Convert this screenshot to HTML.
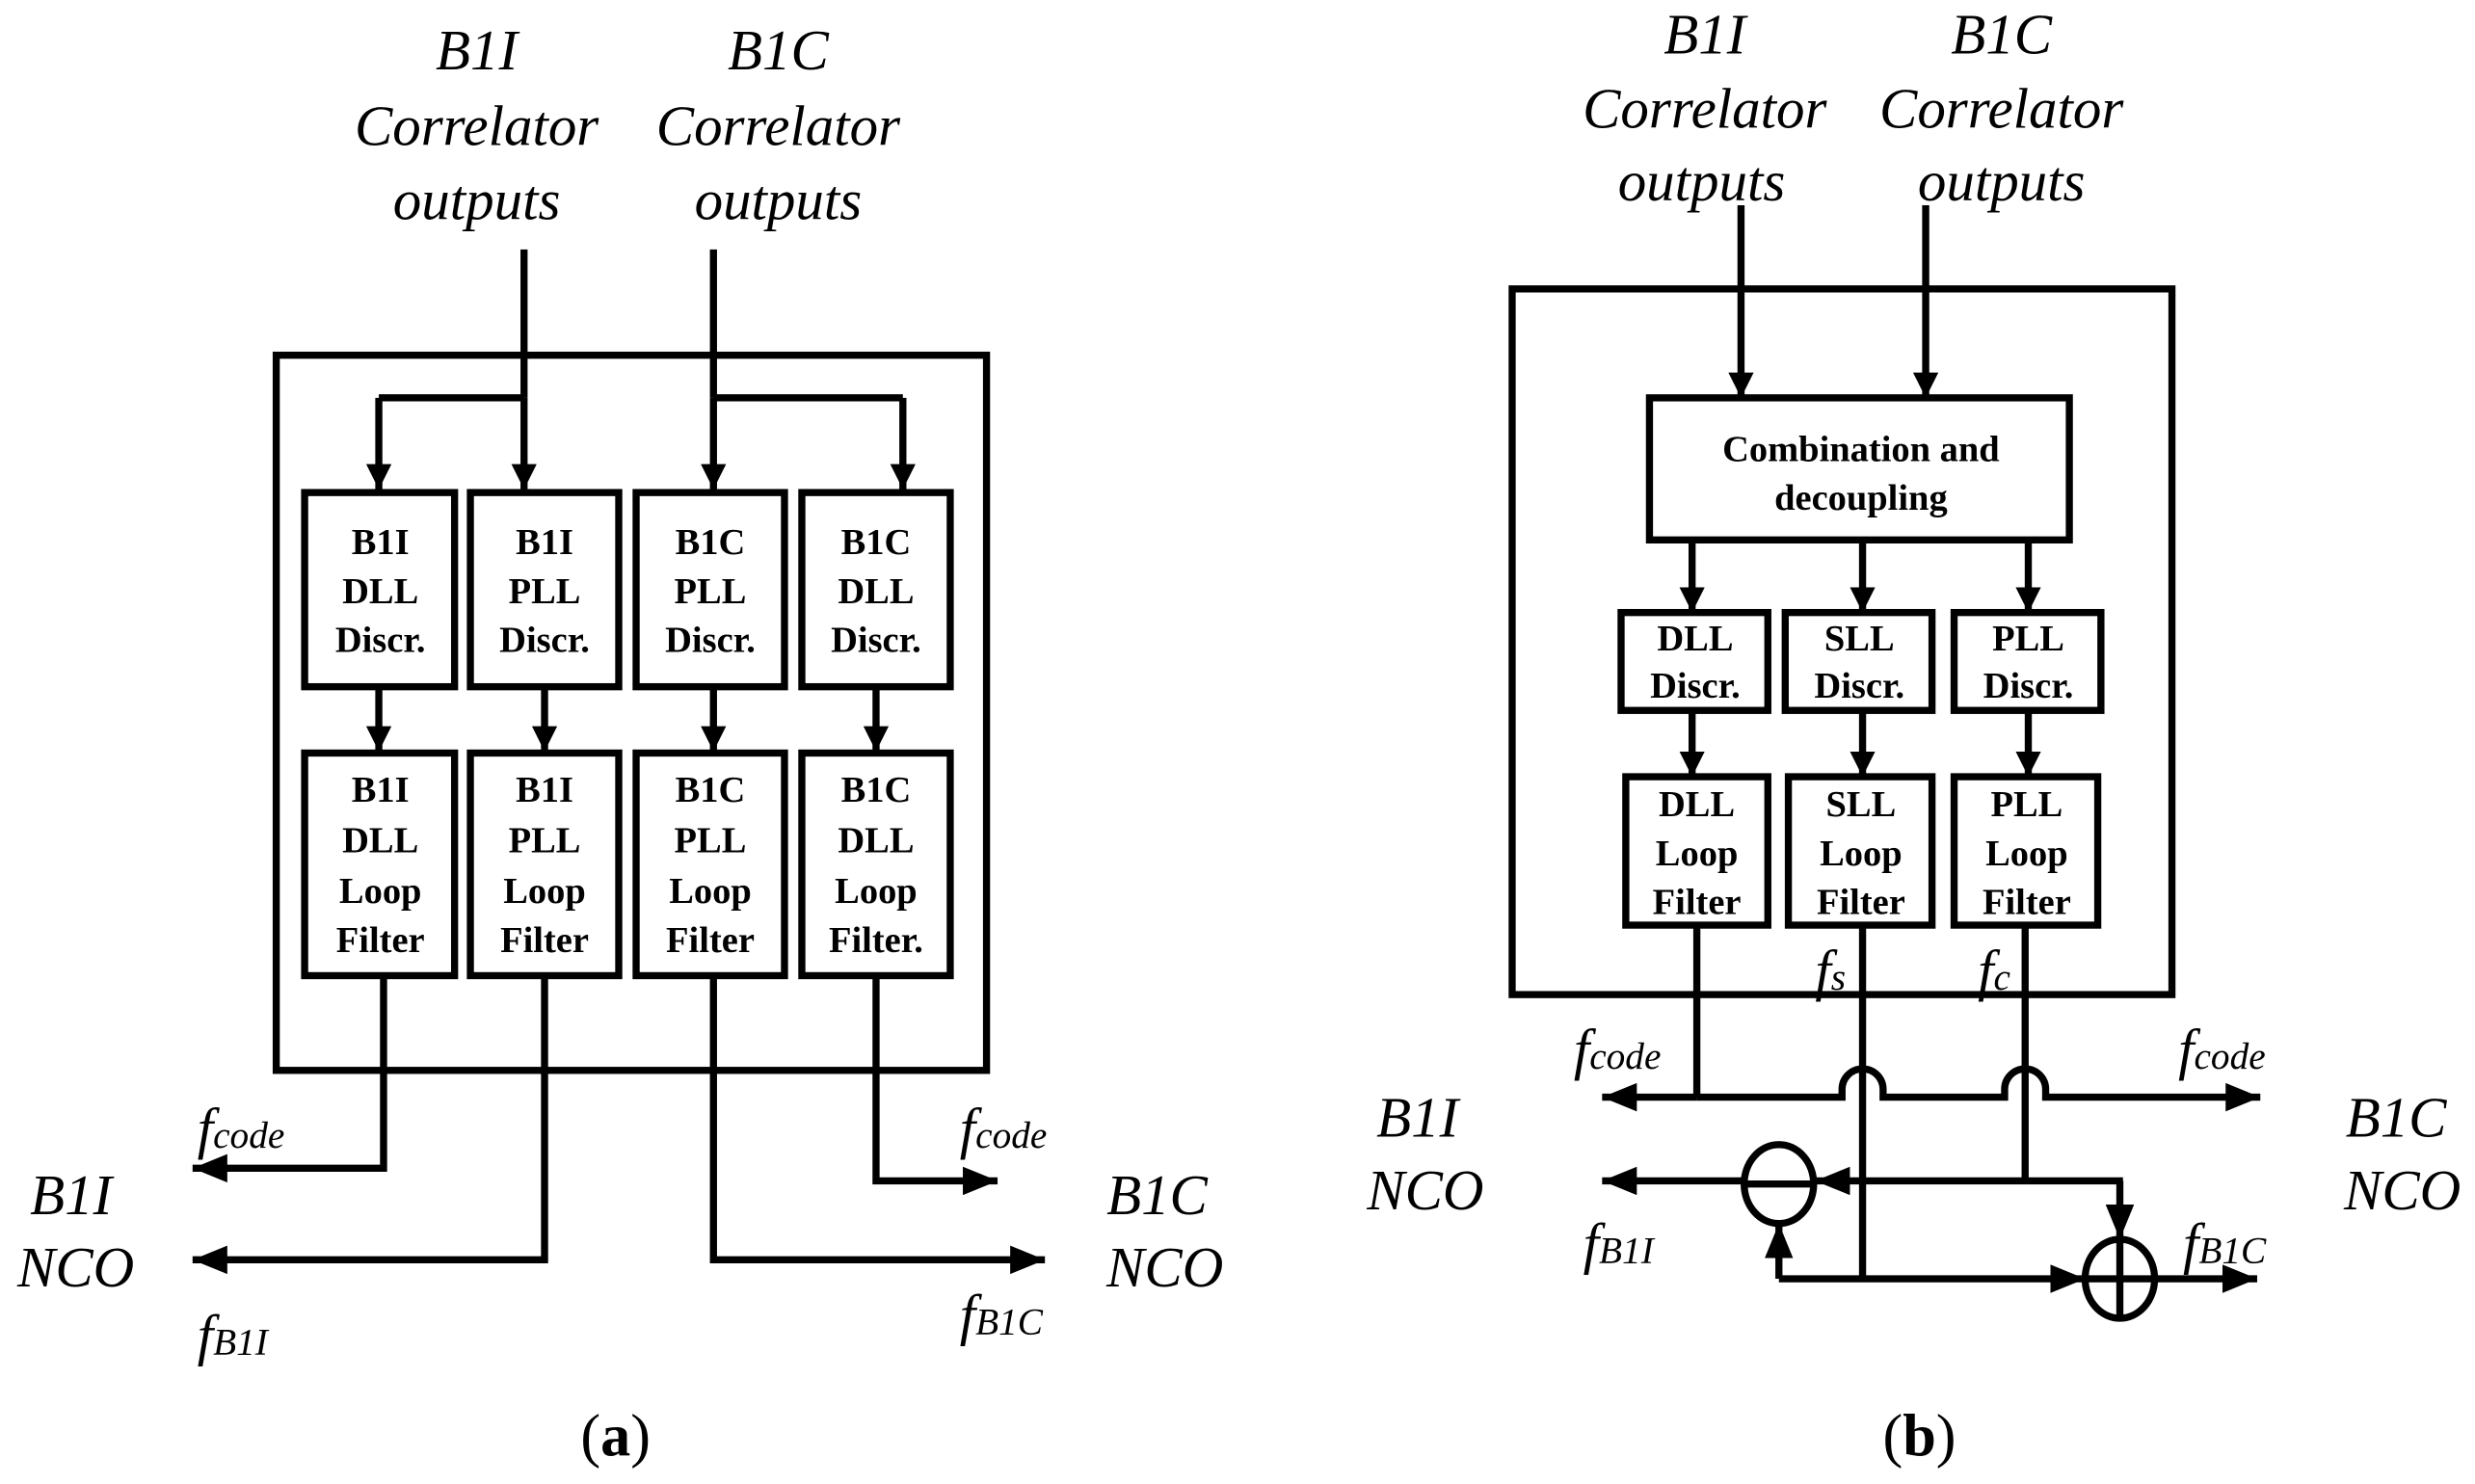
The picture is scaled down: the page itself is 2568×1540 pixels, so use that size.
<!DOCTYPE html>
<html><head><meta charset="utf-8"><style>
html,body{margin:0;padding:0;background:#fff;}
svg{display:block;}
text{font-family:"Liberation Serif",serif;}
.it{font-style:italic;font-size:36px;}
.bx{font-weight:bold;font-size:23.5px;}
</style></head><body>
<svg width="2568" height="1540" viewBox="0 0 1568 940" preserveAspectRatio="none" xmlns="http://www.w3.org/2000/svg">
<defs>
<marker id="a" viewBox="0 0 22 18" refX="22" refY="9" markerWidth="22" markerHeight="18" markerUnits="userSpaceOnUse" orient="auto"><path d="M0,0L22,9L0,18Z" fill="#000"/></marker>
<marker id="s" viewBox="0 0 16 16" refX="16" refY="8" markerWidth="16" markerHeight="16" markerUnits="userSpaceOnUse" orient="auto"><path d="M0,0L16,8L0,16Z" fill="#000"/></marker>
</defs>
<g fill="none" stroke="#000" stroke-width="4.5">
<rect x="175" y="225" width="450" height="453"/>
<line x1="332" y1="158" x2="332" y2="252"/>
<line x1="452" y1="158" x2="452" y2="252"/>
<line x1="240" y1="252" x2="332" y2="252"/>
<line x1="452" y1="252" x2="572" y2="252"/>
<line x1="240" y1="252" x2="240" y2="310" marker-end="url(#s)"/>
<line x1="332" y1="252" x2="332" y2="310" marker-end="url(#s)"/>
<line x1="452" y1="252" x2="452" y2="310" marker-end="url(#s)"/>
<line x1="572" y1="252" x2="572" y2="310" marker-end="url(#s)"/>
<rect x="193" y="312" width="95" height="123"/>
<rect x="298" y="312" width="94" height="123"/>
<rect x="403" y="312" width="94" height="123"/>
<rect x="508" y="312" width="94" height="123"/>
<rect x="193" y="477" width="95" height="141"/>
<rect x="298" y="477" width="94" height="141"/>
<rect x="403" y="477" width="94" height="141"/>
<rect x="508" y="477" width="94" height="141"/>
<line x1="240" y1="435" x2="240" y2="476" marker-end="url(#s)"/>
<line x1="345" y1="435" x2="345" y2="476" marker-end="url(#s)"/>
<line x1="452" y1="435" x2="452" y2="476" marker-end="url(#s)"/>
<line x1="555" y1="435" x2="555" y2="476" marker-end="url(#s)"/>
<polyline points="243,618 243,740 122,740" marker-end="url(#a)"/>
<polyline points="345,618 345,798 122,798" marker-end="url(#a)"/>
<polyline points="452,618 452,798 662,798" marker-end="url(#a)"/>
<polyline points="555,618 555,748 632,748" marker-end="url(#a)"/>
<rect x="958" y="183" width="418" height="447"/>
<line x1="1103" y1="130" x2="1103" y2="252" marker-end="url(#s)"/>
<line x1="1220" y1="130" x2="1220" y2="252" marker-end="url(#s)"/>
<rect x="1045" y="252" width="266" height="90"/>
<line x1="1072" y1="342" x2="1072" y2="388" marker-end="url(#s)"/>
<line x1="1180" y1="342" x2="1180" y2="388" marker-end="url(#s)"/>
<line x1="1285" y1="342" x2="1285" y2="388" marker-end="url(#s)"/>
<rect x="1027" y="388" width="93" height="62"/>
<rect x="1131" y="388" width="93" height="62"/>
<rect x="1238" y="388" width="93" height="62"/>
<line x1="1072" y1="450" x2="1072" y2="492" marker-end="url(#s)"/>
<line x1="1180" y1="450" x2="1180" y2="492" marker-end="url(#s)"/>
<line x1="1285" y1="450" x2="1285" y2="492" marker-end="url(#s)"/>
<rect x="1030" y="492" width="90" height="94"/>
<rect x="1133" y="492" width="91" height="94"/>
<rect x="1238" y="492" width="91" height="94"/>
<line x1="1075" y1="586" x2="1075" y2="695"/>
<line x1="1180" y1="586" x2="1180" y2="810"/>
<line x1="1283" y1="586" x2="1283" y2="748"/>
<path d="M1075,695 H1015" marker-end="url(#a)"/>
<path d="M1075,695 H1167 V690 A13,13 0 0 1 1193,690 V695 H1270 V690 A13,13 0 0 1 1296,690 V695 H1432" marker-end="url(#a)"/>
<ellipse cx="1127" cy="750" rx="22" ry="25"/>
<line x1="1105" y1="750" x2="1149" y2="750"/>
<path d="M1105,748 H1015" marker-end="url(#a)"/>
<path d="M1345,748 H1150" marker-end="url(#a)"/>
<path d="M1343,748 V785" marker-end="url(#a)"/>
<ellipse cx="1343" cy="810" rx="22" ry="25"/>
<line x1="1321" y1="810" x2="1365" y2="810"/>
<line x1="1343" y1="785" x2="1343" y2="835"/>
<path d="M1127,810 V775" marker-end="url(#a)"/>
<path d="M1127,810 H1321" marker-end="url(#a)"/>
<path d="M1365,810 H1430" marker-end="url(#a)"/>
</g>
<g fill="#000">
<g class="it" text-anchor="middle">
<text x="302" y="44">B1I</text><text x="302" y="92">Correlator</text><text x="302" y="139">outputs</text>
<text x="493" y="44">B1C</text><text x="493" y="92">Correlator</text><text x="493" y="139">outputs</text>
<text x="45" y="769">B1I</text><text x="48" y="815">NCO</text>
<text x="733" y="769">B1C</text><text x="738" y="815">NCO</text>
<text x="1080" y="34">B1I</text><text x="1080" y="81">Correlator</text><text x="1078" y="127">outputs</text>
<text x="1268" y="34">B1C</text><text x="1268" y="81">Correlator</text><text x="1268" y="127">outputs</text>
<text x="898" y="720">B1I</text><text x="903" y="766">NCO</text>
<text x="1518" y="720">B1C</text><text x="1522" y="766">NCO</text>
</g>
<g class="it">
<text x="125" y="727">f<tspan font-size="24">code</tspan></text>
<text x="608" y="727">f<tspan font-size="24">code</tspan></text>
<text x="125" y="858">f<tspan font-size="24">B1I</tspan></text>
<text x="608" y="845">f<tspan font-size="24">B1C</tspan></text>
<text x="997" y="677">f<tspan font-size="24">code</tspan></text>
<text x="1380" y="677">f<tspan font-size="24">code</tspan></text>
<text x="1003" y="800">f<tspan font-size="24">B1I</tspan></text>
<text x="1383" y="800">f<tspan font-size="24">B1C</tspan></text>
<text x="1150" y="627">f<tspan font-size="24">s</tspan></text>
<text x="1253" y="627">f<tspan font-size="24">c</tspan></text>
</g>
<g class="bx" text-anchor="middle">
<text x="241" y="351">B1I</text><text x="241" y="382">DLL</text><text x="241" y="413">Discr.</text>
<text x="345" y="351">B1I</text><text x="345" y="382">PLL</text><text x="345" y="413">Discr.</text>
<text x="450" y="351">B1C</text><text x="450" y="382">PLL</text><text x="450" y="413">Discr.</text>
<text x="555" y="351">B1C</text><text x="555" y="382">DLL</text><text x="555" y="413">Discr.</text>
<text x="241" y="508">B1I</text><text x="241" y="540">DLL</text><text x="241" y="572">Loop</text><text x="241" y="603">Filter</text>
<text x="345" y="508">B1I</text><text x="345" y="540">PLL</text><text x="345" y="572">Loop</text><text x="345" y="603">Filter</text>
<text x="450" y="508">B1C</text><text x="450" y="540">PLL</text><text x="450" y="572">Loop</text><text x="450" y="603">Filter</text>
<text x="555" y="508">B1C</text><text x="555" y="540">DLL</text><text x="555" y="572">Loop</text><text x="555" y="603">Filter.</text>
<text x="1179" y="292">Combination and</text><text x="1179" y="323">decoupling</text>
<text x="1074" y="412">DLL</text><text x="1074" y="442">Discr.</text>
<text x="1178" y="412">SLL</text><text x="1178" y="442">Discr.</text>
<text x="1285" y="412">PLL</text><text x="1285" y="442">Discr.</text>
<text x="1075" y="517">DLL</text><text x="1075" y="548">Loop</text><text x="1075" y="579">Filter</text>
<text x="1179" y="517">SLL</text><text x="1179" y="548">Loop</text><text x="1179" y="579">Filter</text>
<text x="1284" y="517">PLL</text><text x="1284" y="548">Loop</text><text x="1284" y="579">Filter</text>
</g>
<text x="390" y="922" font-size="38" text-anchor="middle">(<tspan font-weight="bold">a</tspan>)</text>
<text x="1216" y="922" font-size="38" text-anchor="middle">(<tspan font-weight="bold">b</tspan>)</text>
</g>
</svg>
</body></html>
